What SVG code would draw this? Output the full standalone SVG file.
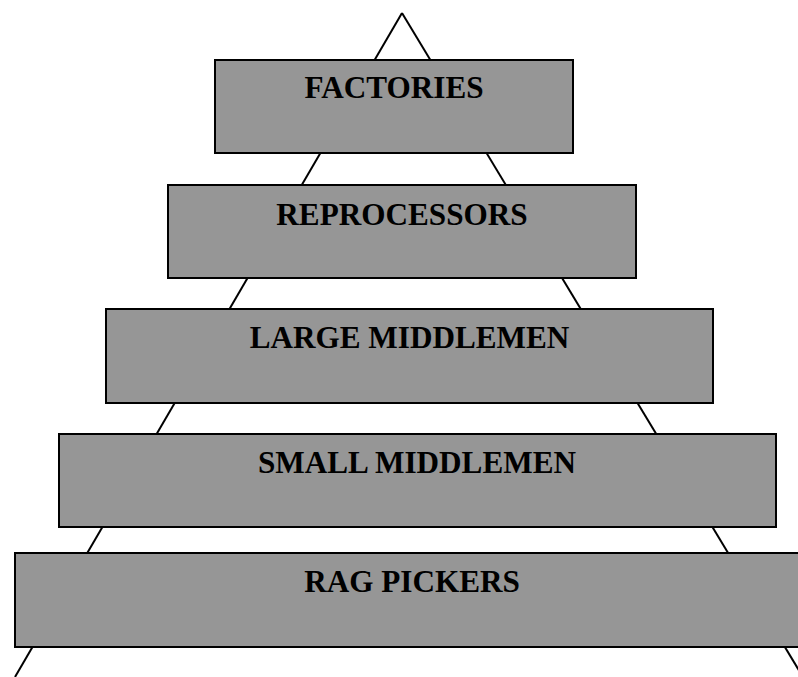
<svg xmlns="http://www.w3.org/2000/svg" width="798" height="677" viewBox="0 0 798 677">
<style>
.box{fill:#969696;stroke:#000;stroke-width:2}
.lbl{font-family:"Liberation Serif","Times New Roman",serif;font-weight:bold;font-size:31.2px;fill:#000;text-anchor:middle}
.ln{stroke:#000;stroke-width:2;fill:none}
</style>
<rect width="798" height="677" fill="#fff"/>
<g id="connectors">
<line class="ln" x1="402" y1="13" x2="15" y2="677"/>
<line class="ln" x1="402" y1="13" x2="803" y2="677"/>
</g>
<g id="factories">
<rect class="box" x="215" y="60" width="358" height="93"/>
<text class="lbl" x="394" y="98">FACTORIES</text>
</g>
<g id="reprocessors">
<rect class="box" x="168" y="185" width="468" height="93"/>
<text class="lbl" x="402" y="225">REPROCESSORS</text>
</g>
<g id="large-middlemen">
<rect class="box" x="106" y="309" width="607" height="94"/>
<text class="lbl" x="409.5" y="348">LARGE MIDDLEMEN</text>
</g>
<g id="small-middlemen">
<rect class="box" x="59" y="434" width="717" height="93"/>
<text class="lbl" x="417" y="473">SMALL MIDDLEMEN</text>
</g>
<g id="rag-pickers">
<rect class="box" x="15" y="553" width="795" height="94"/>
<text class="lbl" x="412" y="592">RAG PICKERS</text>
</g>
</svg>
